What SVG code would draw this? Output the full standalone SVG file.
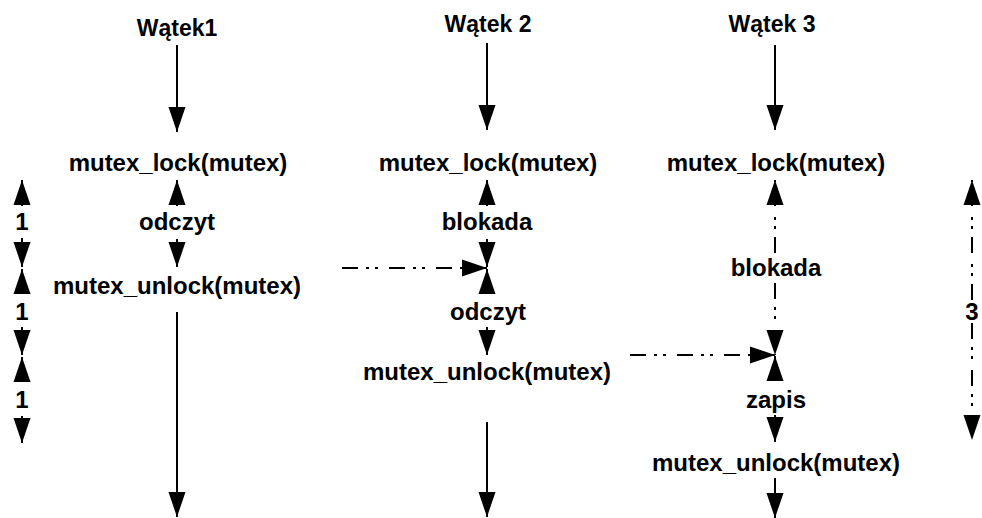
<svg xmlns="http://www.w3.org/2000/svg" width="982" height="518" viewBox="0 0 982 518">
<style>
text{font-family:"Liberation Sans",Arial,sans-serif;font-weight:bold;fill:#000;text-anchor:middle}
.t{font-size:24px}
.h{font-size:23px}
.ln{stroke:#000;stroke-width:2;fill:none;marker-end:url(#ah)}
.dd{stroke-dasharray:16 8 3 6 3 11}
</style>
<defs>
<marker id="ah" markerUnits="userSpaceOnUse" markerWidth="26" markerHeight="18" refX="25" refY="9" orient="auto">
<path d="M0,0.5 L25,9 L0,17.5 Z" fill="#000"/>
</marker>
</defs>
<rect width="982" height="518" fill="#fff"/>
<g id="connectors">
<line class="ln" x1="177" y1="45" x2="177" y2="132"/>
<line class="ln" x1="177" y1="206" x2="177" y2="180"/>
<line class="ln" x1="177" y1="239" x2="177" y2="267"/>
<line class="ln" x1="177" y1="312" x2="177" y2="517"/>
<line class="ln" x1="487" y1="43" x2="487" y2="130"/>
<line class="ln" x1="487" y1="206" x2="487" y2="180"/>
<line class="ln" x1="487" y1="239" x2="487" y2="267"/>
<line class="ln dd" x1="342" y1="268" x2="487" y2="268"/>
<line class="ln" x1="487" y1="294" x2="487" y2="269"/>
<line class="ln" x1="487" y1="327" x2="487" y2="355"/>
<line class="ln" x1="487" y1="422" x2="487" y2="517"/>
<line class="ln" x1="775" y1="45" x2="775" y2="130"/>
<line class="ln dd" x1="775" y1="253" x2="775" y2="180"/>
<line class="ln dd" x1="775" y1="283" x2="775" y2="355"/>
<line class="ln dd" x1="630" y1="355" x2="775" y2="355"/>
<line class="ln" x1="775" y1="381" x2="775" y2="356"/>
<line class="ln" x1="775" y1="415" x2="775" y2="442"/>
<line class="ln" x1="775" y1="478" x2="775" y2="518"/>
<line class="ln dd" x1="972" y1="300" x2="972" y2="180"/>
<line class="ln dd" x1="972" y1="323" x2="972" y2="440"/>
<line class="ln" x1="22" y1="206" x2="22" y2="180"/>
<line class="ln" x1="22" y1="238" x2="22" y2="267"/>
<line class="ln" x1="22" y1="294" x2="22" y2="269"/>
<line class="ln" x1="22" y1="327" x2="22" y2="355"/>
<line class="ln" x1="22" y1="382" x2="22" y2="357"/>
<line class="ln" x1="22" y1="416" x2="22" y2="443"/>
</g>
<g id="watek1"><text class="h" x="177" y="36">Wątek1</text></g>
<g id="watek2"><text class="h" x="488" y="32">Wątek 2</text></g>
<g id="watek3"><text class="h" x="772" y="32">Wątek 3</text></g>
<g id="lock1"><text class="t" x="178" y="171">mutex_lock(mutex)</text></g>
<g id="read1"><text class="t" x="177" y="230">odczyt</text></g>
<g id="unlock1"><text class="t" x="177" y="294">mutex_unlock(mutex)</text></g>
<g id="lock2"><text class="t" x="488" y="171">mutex_lock(mutex)</text></g>
<g id="block2"><text class="t" x="487" y="230">blokada</text></g>
<g id="read2"><text class="t" x="488" y="320">odczyt</text></g>
<g id="unlock2"><text class="t" x="487" y="380">mutex_unlock(mutex)</text></g>
<g id="lock3"><text class="t" x="776" y="171">mutex_lock(mutex)</text></g>
<g id="block3"><text class="t" x="776" y="276">blokada</text></g>
<g id="write3"><text class="t" x="776" y="408">zapis</text></g>
<g id="unlock3"><text class="t" x="776" y="471">mutex_unlock(mutex)</text></g>
<g id="m1a"><text class="t" x="22" y="230">1</text></g>
<g id="m1b"><text class="t" x="22" y="320">1</text></g>
<g id="m1c"><text class="t" x="22" y="408">1</text></g>
<g id="m3"><text class="t" x="972" y="320">3</text></g>
</svg>
